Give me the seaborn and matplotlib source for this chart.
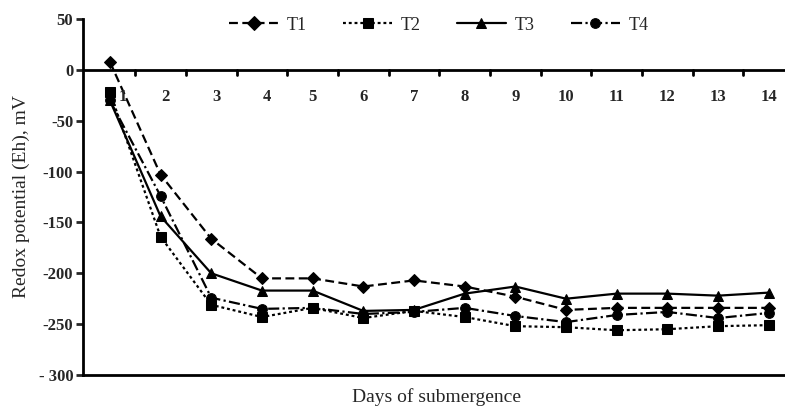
import numpy as np
import pandas as pd
import matplotlib
matplotlib.use("Agg")
import matplotlib.pyplot as plt
import seaborn as sns

days = list(range(1, 15))
t1 = [8, -103, -166, -205, -205, -213, -207, -213, -223, -236, -234, -234, -234, -234]
t2 = [-22, -164, -231, -243, -234, -244, -237, -243, -252, -253, -256, -255, -252, -251]
t3 = [-30, -144, -200, -217, -217, -237, -236, -220, -213, -225, -220, -220, -222, -219]
t4 = [-30, -124, -224, -235, -234, -240, -238, -234, -242, -248, -241, -238, -244, -239]
series_names = ["T1", "T2", "T3", "T4"]
yticks = [50, 0, -50, -100, -150, -200, -250, -300]
ytick_labels = ["50", "0", "-50", "-100", "-150", "-200", "-250", "- 300"]

df = pd.DataFrame({
    "day": days * 4,
    "eh": t1 + t2 + t3 + t4,
    "series": sum([[s] * len(days) for s in series_names], []),
})

sns.set_style("white")
plt.rcParams["font.family"] = ["Liberation Serif", "DejaVu Serif"]
plt.rcParams["font.size"] = 12

fig = plt.figure(figsize=(7.85, 4.07), dpi=100)
ax = fig.add_axes([83 / 785, 32 / 407, 702 / 785, 356 / 407])

markers = {"T1": "D", "T2": "s", "T3": "^", "T4": "o"}
dashes = {"T1": (4, 2), "T2": (1.3, 1.3), "T3": "", "T4": (5, 1.5, 1, 1.5)}
sizes = {"T1": 6.5, "T2": 7.5, "T3": 7.5, "T4": 7}

sns.lineplot(data=df, x="day", y="eh", style="series", markers=markers,
             dashes=dashes, color="black", linewidth=1.6, markersize=7,
             markeredgecolor="black", ax=ax, legend=True)
for line, s in zip(ax.lines, series_names):
    line.set_markersize(sizes[s])

ax.set_xlim(0.47, 14.32)
ax.set_ylim(-300, 50)
ax.set_yticks(yticks)
ax.set_yticklabels(ytick_labels, fontweight="bold", fontsize=12)
ax.tick_params(axis="y", direction="out", length=5, width=2, left=True, pad=2)
ax.set_xticks([])

for s in ["top", "right"]:
    ax.spines[s].set_visible(False)
for s in ["left", "bottom"]:
    ax.spines[s].set_linewidth(2)
    ax.spines[s].set_color("black")

# zero line with category ticks between days
ax.axhline(0, color="black", linewidth=2, zorder=1)
for b in np.arange(1.5, 14.5, 1):
    ax.plot([b, b], [0, -5], color="black", linewidth=2, zorder=1)
for d in days:
    ax.text(d + (0.25 if d == 1 else 0.1 if d < 5 else 0), -27, str(d),
            ha="center", va="center", fontsize=12, fontweight="bold")

ax.set_ylabel("Redox potential (Eh), mV", fontsize=14)
ax.yaxis.set_label_coords(-0.075, 0.5)
ax.set_xlabel("Days of submergence", fontsize=14, va="center")
ax.xaxis.set_label_coords(0.504, -0.062)

handles, labels = ax.get_legend_handles_labels()
ax.legend(handles, labels, ncol=4, loc="center", bbox_to_anchor=(0.507, 0.983),
          frameon=False, handlelength=2.7, columnspacing=2.0, handletextpad=0.5,
          fontsize=13)

fig.savefig("out.png", dpi=100)
